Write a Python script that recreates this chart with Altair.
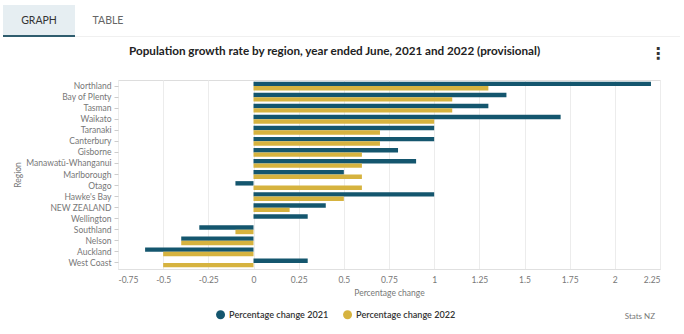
import altair as alt
import pandas as pd

regions = ["Northland", "Bay of Plenty", "Tasman", "Waikato", "Taranaki", "Canterbury",
           "Gisborne", "Manawatū-Whanganui", "Marlborough", "Otago", "Hawke's Bay",
           "NEW ZEALAND", "Wellington", "Southland", "Nelson", "Auckland", "West Coast"]
change_2021 = [2.2, 1.4, 1.3, 1.7, 1.0, 1.0, 0.8, 0.9, 0.5, -0.1, 1.0, 0.4, 0.3, -0.3, -0.4, -0.6, 0.3]
change_2022 = [1.3, 1.1, 1.1, 1.0, 0.7, 0.7, 0.6, 0.6, 0.6, 0.6, 0.5, 0.2, 0.0, -0.1, -0.4, -0.5, -0.5]
series = ["Percentage change 2021", "Percentage change 2022"]
x_ticks = [-0.75, -0.5, -0.25, 0, 0.25, 0.5, 0.75, 1, 1.25, 1.5, 1.75, 2, 2.25]

rows = []
for r, a, b in zip(regions, change_2021, change_2022):
    rows.append({"Region": r, "series": series[0], "value": a})
    rows.append({"Region": r, "series": series[1], "value": b})
df = pd.DataFrame(rows)

FONT = "Lato"
OX, OY = 118, 80  # plot origin in page pixels

bars = alt.Chart(df).mark_bar(height={"band": 1}).encode(
    y=alt.Y("Region:N", sort=regions, title="Region",
            scale=alt.Scale(paddingInner=0.2, paddingOuter=0.15),
            axis=alt.Axis(tickSize=4, tickColor="#cccccc", domain=False, labelPadding=3,
                          labelFont=FONT, labelFontSize=8.5, labelColor="#777777",
                          titleFont=FONT, titleFontSize=8.5, titleColor="#777777",
                          titleFontWeight="normal", titlePadding=3, grid=False)),
    yOffset=alt.YOffset("series:N", sort=series),
    x=alt.X("value:Q", title="Percentage change",
            scale=alt.Scale(domain=[-0.75, 2.25], nice=False, zero=False),
            axis=alt.Axis(values=x_ticks, labelExpr="datum.value + ''", ticks=False,
                          domainColor="#e0e0e0", gridColor="#ececec", labelPadding=6,
                          labelFont=FONT, labelFontSize=8.5, labelColor="#777777",
                          titleFont=FONT, titleFontSize=8.5, titleColor="#777777",
                          titleFontWeight="normal", titlePadding=5)),
    color=alt.Color("series:N", sort=series,
                    scale=alt.Scale(domain=series, range=["#14566e", "#d6b33f"]),
                    legend=alt.Legend(title=None, orient="none", direction="horizontal",
                                      legendX=98, legendY=230, symbolType="circle",
                                      symbolSize=80, symbolStrokeWidth=0, columnPadding=14,
                                      labelFont=FONT, labelFontSize=9.1, labelFontWeight=600,
                                      labelColor="#333333", padding=0, symbolOffset=0)),
)


def txt(s, x, y, size=10, color="#333", weight="normal", align="center", font=FONT):
    return alt.Chart(pd.DataFrame({"t": [s]})).mark_text(
        fontSize=size, color=color, fontWeight=weight, align=align, baseline="middle", font=font
    ).encode(x=alt.value(x - OX), y=alt.value(y - OY), text="t:N")


def rect(x1, x2, y1, y2, color):
    return alt.Chart(pd.DataFrame({"a": [0]})).mark_rect(color=color).encode(
        x=alt.value(x1 - OX), x2=alt.value(x2 - OX), y=alt.value(y1 - OY), y2=alt.value(y2 - OY))


deco = [
    rect(3, 75, 5, 36, "#e6eef2"),
    rect(75, 680, 36, 37, "#f0f0f0"),
    rect(3, 75, 35, 37, "#2f5d6e"),
    txt("GRAPH", 39, 21, size=10.5, color="#333"),
    txt("TABLE", 108, 21, size=10.5, color="#666"),
    txt("Population growth rate by region, year ended June, 2021 and 2022 (provisional)",
        129, 51, size=11.7, color="#222", weight="bold", align="left"),
    txt("⋮", 658, 54, size=16, color="#333", weight="bold", font="DejaVu Sans"),
    txt("Stats NZ", 655, 317, size=8, color="#777", align="right"),
]

chart = alt.layer(*deco, bars).properties(
    width=542, height=189,
    autosize=alt.AutoSizeParams(type="none"),
    padding={"left": OX, "top": OY, "right": 24, "bottom": 65},
).configure_view(stroke=None).configure(background="white")

chart.save("out.html", embed_options={"renderer": "svg", "actions": False})
